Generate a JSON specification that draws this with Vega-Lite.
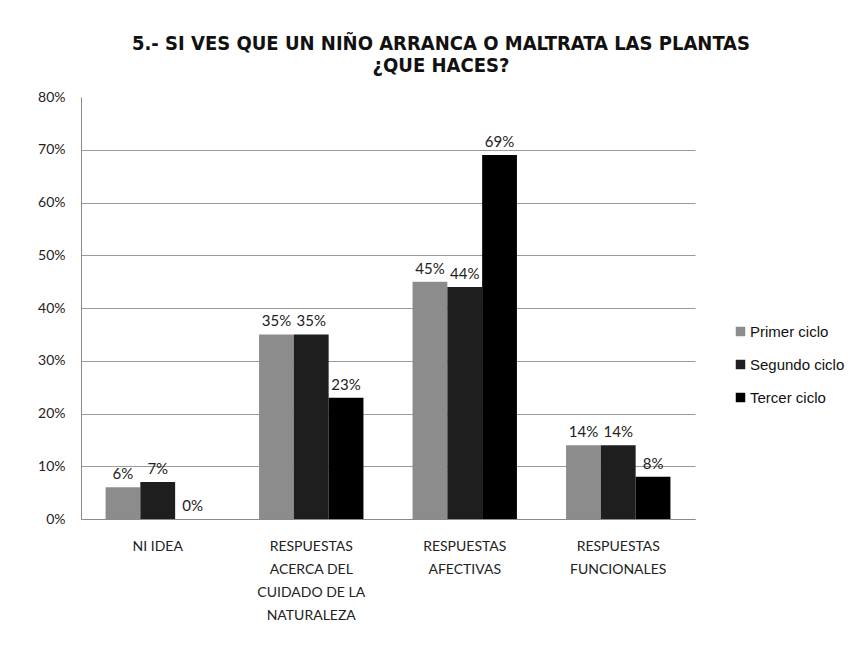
{
  "$schema": "https://vega.github.io/schema/vega-lite/v6.json",
  "autosize": {"type": "none"},
  "width": 614,
  "height": 422,
  "padding": {"left": 81, "top": 97, "right": 171, "bottom": 126},
  "background": "white",
  "config": {"view": {"stroke": null}},
  "title": {
    "text": ["5.- SI VES QUE UN NIÑO ARRANCA O MALTRATA LAS PLANTAS", "¿QUE HACES?"],
    "font": "DejaVu Sans Condensed, Liberation Sans",
    "fontWeight": "bold",
    "fontSize": 20,
    "color": "#111",
    "anchor": "middle",
    "frame": "group",
    "dx": 53,
    "offset": 14,
    "lineHeight": 22
  },
  "data": {
    "values": [
      {"cat": "NI IDEA", "serie": "Primer  ciclo", "v": 0.06},
      {"cat": "NI IDEA", "serie": "Segundo ciclo", "v": 0.07},
      {"cat": "NI IDEA", "serie": "Tercer ciclo", "v": 0.0},
      {"cat": "RESPUESTAS|ACERCA DEL|CUIDADO DE LA|NATURALEZA", "serie": "Primer  ciclo", "v": 0.35},
      {"cat": "RESPUESTAS|ACERCA DEL|CUIDADO DE LA|NATURALEZA", "serie": "Segundo ciclo", "v": 0.35},
      {"cat": "RESPUESTAS|ACERCA DEL|CUIDADO DE LA|NATURALEZA", "serie": "Tercer ciclo", "v": 0.23},
      {"cat": "RESPUESTAS|AFECTIVAS", "serie": "Primer  ciclo", "v": 0.45},
      {"cat": "RESPUESTAS|AFECTIVAS", "serie": "Segundo ciclo", "v": 0.44},
      {"cat": "RESPUESTAS|AFECTIVAS", "serie": "Tercer ciclo", "v": 0.69},
      {"cat": "RESPUESTAS|FUNCIONALES", "serie": "Primer  ciclo", "v": 0.14},
      {"cat": "RESPUESTAS|FUNCIONALES", "serie": "Segundo ciclo", "v": 0.14},
      {"cat": "RESPUESTAS|FUNCIONALES", "serie": "Tercer ciclo", "v": 0.08}
    ]
  },
  "encoding": {
    "x": {
      "field": "cat",
      "type": "nominal",
      "sort": null,
      "scale": {"paddingInner": 0.32, "paddingOuter": 0.16},
      "axis": {
        "title": null,
        "labelAngle": 0,
        "labelExpr": "split(datum.label, '|')",
        "labelFont": "Lato",
        "labelFontSize": 14,
        "labelColor": "#222",
        "labelLineHeight": 23,
        "labelPadding": 20,
        "labelBaseline": "top",
        "ticks": false,
        "domainColor": "#8a8a8a",
        "labelLimit": 200
      }
    },
    "xOffset": {"field": "serie", "type": "nominal", "sort": null, "scale": {"paddingInner": 0, "paddingOuter": 0}},
    "y": {
      "field": "v",
      "type": "quantitative",
      "scale": {"domain": [0, 0.8], "nice": false},
      "axis": {
        "title": null,
        "format": ".0%",
        "values": [0, 0.1, 0.2, 0.3, 0.4, 0.5, 0.6, 0.7, 0.8],
        "labelFont": "Lato",
        "labelFontSize": 14,
        "labelColor": "#222",
        "labelPadding": 16,
        "ticks": false,
        "domainColor": "#8a8a8a",
        "gridColor": "#9a9a9a",
        "gridOpacity": {"condition": {"test": "datum.value >= 0.8", "value": 0}, "value": 1}
      }
    }
  },
  "layer": [
    {
      "mark": {"type": "bar"},
      "encoding": {
        "color": {
          "field": "serie",
          "type": "nominal",
          "sort": null,
          "scale": {"domain": ["Primer  ciclo", "Segundo ciclo", "Tercer ciclo"], "range": ["#8c8c8c", "#1e1e1e", "#000000"]},
          "legend": {
            "title": null,
            "orient": "none",
            "legendX": 652,
            "legendY": 227,
            "symbolType": "square",
            "symbolSize": 90,
            "symbolStrokeWidth": 0,
            "labelFont": "Liberation Sans",
            "labelFontSize": 15,
            "labelColor": "#111",
            "labelOffset": 2,
            "rowPadding": 17,
            "labelLimit": 200
          }
        }
      }
    },
    {
      "mark": {"type": "text", "baseline": "bottom", "dy": -5, "font": "Lato", "fontSize": 15, "color": "#222"},
      "encoding": {
        "text": {"field": "v", "type": "quantitative", "format": ".0%"}
      }
    }
  ]
}
